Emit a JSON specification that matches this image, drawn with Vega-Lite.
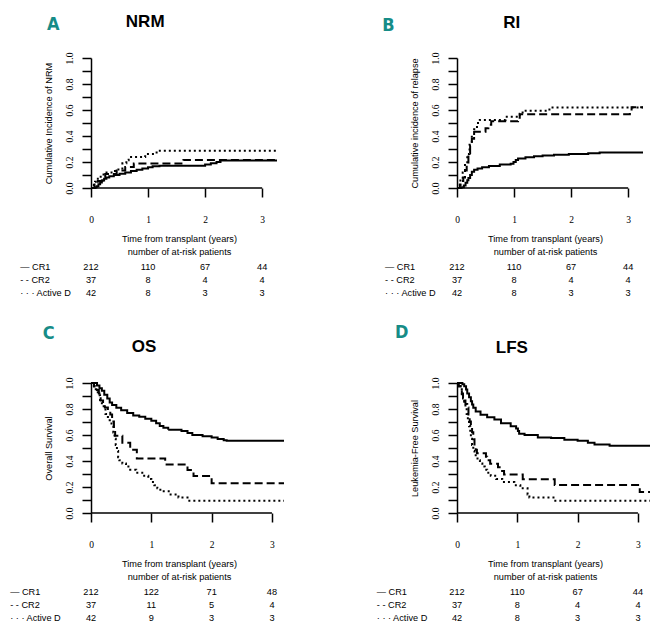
{
  "$schema": "https://vega.github.io/schema/vega-lite/v6.json",
  "padding": {"left": 10, "top": 13, "right": 5, "bottom": 5},
  "background": "white",
  "config": {
    "view": {"stroke": null},
    "axis": {"grid": false, "domainColor": "black", "tickColor": "black", "labelColor": "black", "titleColor": "black", "domainWidth": 1.5, "tickWidth": 1.5, "tickSize": 9, "labelFont": "Liberation Serif", "labelFontSize": 9.5, "titleFont": "Liberation Sans", "titleFontSize": 9.2, "titleFontWeight": "normal", "titleLineHeight": 13, "labelOverlap": false},
    "axisY": {"labelExpr": "round(datum.value*10) % 2 == 0 ? format(datum.value, '.1f') : ''", "labelAngle": -90, "labelPadding": 8, "titlePadding": 11, "labelOverlap": false, "labelBound": false, "tickCount": 11},
    "axisX": {"format": "d", "domain": false, "labelFlush": false, "labelPadding": 17, "titleX": 88, "titlePadding": 11, "labelOverlap": false},
    "text": {"color": "black"}
  },
  "datasets": {
    "legend": [
      {"group": "CR1", "label": "— CR1"},
      {"group": "CR2", "label": "- - CR2"},
      {"group": "Active D", "label": "· · · Active D"}
    ],
    "risk": [
      {"panel": "A", "group": "CR1", "time": 0, "n": 212}, {"panel": "A", "group": "CR1", "time": 1, "n": 110}, {"panel": "A", "group": "CR1", "time": 2, "n": 67}, {"panel": "A", "group": "CR1", "time": 3, "n": 44},
      {"panel": "A", "group": "CR2", "time": 0, "n": 37}, {"panel": "A", "group": "CR2", "time": 1, "n": 8}, {"panel": "A", "group": "CR2", "time": 2, "n": 4}, {"panel": "A", "group": "CR2", "time": 3, "n": 4},
      {"panel": "A", "group": "Active D", "time": 0, "n": 42}, {"panel": "A", "group": "Active D", "time": 1, "n": 8}, {"panel": "A", "group": "Active D", "time": 2, "n": 3}, {"panel": "A", "group": "Active D", "time": 3, "n": 3},
      {"panel": "B", "group": "CR1", "time": 0, "n": 212}, {"panel": "B", "group": "CR1", "time": 1, "n": 110}, {"panel": "B", "group": "CR1", "time": 2, "n": 67}, {"panel": "B", "group": "CR1", "time": 3, "n": 44},
      {"panel": "B", "group": "CR2", "time": 0, "n": 37}, {"panel": "B", "group": "CR2", "time": 1, "n": 8}, {"panel": "B", "group": "CR2", "time": 2, "n": 4}, {"panel": "B", "group": "CR2", "time": 3, "n": 4},
      {"panel": "B", "group": "Active D", "time": 0, "n": 42}, {"panel": "B", "group": "Active D", "time": 1, "n": 8}, {"panel": "B", "group": "Active D", "time": 2, "n": 3}, {"panel": "B", "group": "Active D", "time": 3, "n": 3},
      {"panel": "C", "group": "CR1", "time": 0, "n": 212}, {"panel": "C", "group": "CR1", "time": 1, "n": 122}, {"panel": "C", "group": "CR1", "time": 2, "n": 71}, {"panel": "C", "group": "CR1", "time": 3, "n": 48},
      {"panel": "C", "group": "CR2", "time": 0, "n": 37}, {"panel": "C", "group": "CR2", "time": 1, "n": 11}, {"panel": "C", "group": "CR2", "time": 2, "n": 5}, {"panel": "C", "group": "CR2", "time": 3, "n": 4},
      {"panel": "C", "group": "Active D", "time": 0, "n": 42}, {"panel": "C", "group": "Active D", "time": 1, "n": 9}, {"panel": "C", "group": "Active D", "time": 2, "n": 3}, {"panel": "C", "group": "Active D", "time": 3, "n": 3},
      {"panel": "D", "group": "CR1", "time": 0, "n": 212}, {"panel": "D", "group": "CR1", "time": 1, "n": 110}, {"panel": "D", "group": "CR1", "time": 2, "n": 67}, {"panel": "D", "group": "CR1", "time": 3, "n": 44},
      {"panel": "D", "group": "CR2", "time": 0, "n": 37}, {"panel": "D", "group": "CR2", "time": 1, "n": 8}, {"panel": "D", "group": "CR2", "time": 2, "n": 4}, {"panel": "D", "group": "CR2", "time": 3, "n": 4},
      {"panel": "D", "group": "Active D", "time": 0, "n": 42}, {"panel": "D", "group": "Active D", "time": 1, "n": 8}, {"panel": "D", "group": "Active D", "time": 2, "n": 3}, {"panel": "D", "group": "Active D", "time": 3, "n": 3}
    ],
    "km": [
      {"panel": "A", "group": "CR1", "time": 0, "value": 0}, {"panel": "A", "group": "CR1", "time": 0.08, "value": 0.005}, {"panel": "A", "group": "CR1", "time": 0.1, "value": 0.014}, {"panel": "A", "group": "CR1", "time": 0.13, "value": 0.028}, {"panel": "A", "group": "CR1", "time": 0.16, "value": 0.042}, {"panel": "A", "group": "CR1", "time": 0.19, "value": 0.057}, {"panel": "A", "group": "CR1", "time": 0.23, "value": 0.071}, {"panel": "A", "group": "CR1", "time": 0.27, "value": 0.08}, {"panel": "A", "group": "CR1", "time": 0.32, "value": 0.09}, {"panel": "A", "group": "CR1", "time": 0.4, "value": 0.1}, {"panel": "A", "group": "CR1", "time": 0.5, "value": 0.11}, {"panel": "A", "group": "CR1", "time": 0.6, "value": 0.12}, {"panel": "A", "group": "CR1", "time": 0.7, "value": 0.13}, {"panel": "A", "group": "CR1", "time": 0.8, "value": 0.14}, {"panel": "A", "group": "CR1", "time": 0.9, "value": 0.15}, {"panel": "A", "group": "CR1", "time": 1.0, "value": 0.16}, {"panel": "A", "group": "CR1", "time": 1.08, "value": 0.168}, {"panel": "A", "group": "CR1", "time": 1.2, "value": 0.172}, {"panel": "A", "group": "CR1", "time": 2.0, "value": 0.18}, {"panel": "A", "group": "CR1", "time": 2.1, "value": 0.19}, {"panel": "A", "group": "CR1", "time": 2.2, "value": 0.2}, {"panel": "A", "group": "CR1", "time": 2.27, "value": 0.212}, {"panel": "A", "group": "CR1", "time": 3.26, "value": 0.212},
      {"panel": "A", "group": "CR2", "time": 0, "value": 0}, {"panel": "A", "group": "CR2", "time": 0.06, "value": 0.027}, {"panel": "A", "group": "CR2", "time": 0.12, "value": 0.054}, {"panel": "A", "group": "CR2", "time": 0.2, "value": 0.081}, {"panel": "A", "group": "CR2", "time": 0.25, "value": 0.108}, {"panel": "A", "group": "CR2", "time": 0.45, "value": 0.135}, {"panel": "A", "group": "CR2", "time": 0.6, "value": 0.162}, {"panel": "A", "group": "CR2", "time": 0.75, "value": 0.189}, {"panel": "A", "group": "CR2", "time": 1.62, "value": 0.216}, {"panel": "A", "group": "CR2", "time": 3.26, "value": 0.216},
      {"panel": "A", "group": "Active D", "time": 0, "value": 0}, {"panel": "A", "group": "Active D", "time": 0.03, "value": 0.024}, {"panel": "A", "group": "Active D", "time": 0.07, "value": 0.048}, {"panel": "A", "group": "Active D", "time": 0.12, "value": 0.071}, {"panel": "A", "group": "Active D", "time": 0.17, "value": 0.095}, {"panel": "A", "group": "Active D", "time": 0.22, "value": 0.119}, {"panel": "A", "group": "Active D", "time": 0.42, "value": 0.143}, {"panel": "A", "group": "Active D", "time": 0.55, "value": 0.19}, {"panel": "A", "group": "Active D", "time": 0.62, "value": 0.214}, {"panel": "A", "group": "Active D", "time": 0.66, "value": 0.238}, {"panel": "A", "group": "Active D", "time": 0.95, "value": 0.262}, {"panel": "A", "group": "Active D", "time": 1.15, "value": 0.286}, {"panel": "A", "group": "Active D", "time": 3.26, "value": 0.286},
      {"panel": "B", "group": "CR1", "time": 0, "value": 0}, {"panel": "B", "group": "CR1", "time": 0.08, "value": 0.005}, {"panel": "B", "group": "CR1", "time": 0.12, "value": 0.02}, {"panel": "B", "group": "CR1", "time": 0.15, "value": 0.04}, {"panel": "B", "group": "CR1", "time": 0.18, "value": 0.06}, {"panel": "B", "group": "CR1", "time": 0.2, "value": 0.077}, {"panel": "B", "group": "CR1", "time": 0.23, "value": 0.1}, {"panel": "B", "group": "CR1", "time": 0.26, "value": 0.125}, {"panel": "B", "group": "CR1", "time": 0.3, "value": 0.14}, {"panel": "B", "group": "CR1", "time": 0.36, "value": 0.15}, {"panel": "B", "group": "CR1", "time": 0.44, "value": 0.16}, {"panel": "B", "group": "CR1", "time": 0.56, "value": 0.17}, {"panel": "B", "group": "CR1", "time": 0.75, "value": 0.18}, {"panel": "B", "group": "CR1", "time": 0.94, "value": 0.187}, {"panel": "B", "group": "CR1", "time": 0.99, "value": 0.2}, {"panel": "B", "group": "CR1", "time": 1.03, "value": 0.215}, {"panel": "B", "group": "CR1", "time": 1.07, "value": 0.226}, {"panel": "B", "group": "CR1", "time": 1.2, "value": 0.236}, {"panel": "B", "group": "CR1", "time": 1.35, "value": 0.245}, {"panel": "B", "group": "CR1", "time": 1.5, "value": 0.25}, {"panel": "B", "group": "CR1", "time": 1.7, "value": 0.256}, {"panel": "B", "group": "CR1", "time": 1.96, "value": 0.262}, {"panel": "B", "group": "CR1", "time": 2.3, "value": 0.268}, {"panel": "B", "group": "CR1", "time": 2.5, "value": 0.274}, {"panel": "B", "group": "CR1", "time": 3.26, "value": 0.274},
      {"panel": "B", "group": "CR2", "time": 0, "value": 0}, {"panel": "B", "group": "CR2", "time": 0.05, "value": 0.027}, {"panel": "B", "group": "CR2", "time": 0.08, "value": 0.054}, {"panel": "B", "group": "CR2", "time": 0.11, "value": 0.081}, {"panel": "B", "group": "CR2", "time": 0.14, "value": 0.135}, {"panel": "B", "group": "CR2", "time": 0.17, "value": 0.189}, {"panel": "B", "group": "CR2", "time": 0.2, "value": 0.27}, {"panel": "B", "group": "CR2", "time": 0.23, "value": 0.324}, {"panel": "B", "group": "CR2", "time": 0.26, "value": 0.378}, {"panel": "B", "group": "CR2", "time": 0.3, "value": 0.432}, {"panel": "B", "group": "CR2", "time": 0.5, "value": 0.459}, {"panel": "B", "group": "CR2", "time": 0.55, "value": 0.486}, {"panel": "B", "group": "CR2", "time": 0.6, "value": 0.514}, {"panel": "B", "group": "CR2", "time": 1.07, "value": 0.541}, {"panel": "B", "group": "CR2", "time": 1.1, "value": 0.568}, {"panel": "B", "group": "CR2", "time": 3.03, "value": 0.595}, {"panel": "B", "group": "CR2", "time": 3.06, "value": 0.622}, {"panel": "B", "group": "CR2", "time": 3.26, "value": 0.622},
      {"panel": "B", "group": "Active D", "time": 0, "value": 0}, {"panel": "B", "group": "Active D", "time": 0.03, "value": 0.024}, {"panel": "B", "group": "Active D", "time": 0.06, "value": 0.071}, {"panel": "B", "group": "Active D", "time": 0.1, "value": 0.119}, {"panel": "B", "group": "Active D", "time": 0.14, "value": 0.19}, {"panel": "B", "group": "Active D", "time": 0.18, "value": 0.262}, {"panel": "B", "group": "Active D", "time": 0.22, "value": 0.333}, {"panel": "B", "group": "Active D", "time": 0.26, "value": 0.405}, {"panel": "B", "group": "Active D", "time": 0.3, "value": 0.452}, {"panel": "B", "group": "Active D", "time": 0.35, "value": 0.5}, {"panel": "B", "group": "Active D", "time": 0.4, "value": 0.524}, {"panel": "B", "group": "Active D", "time": 0.85, "value": 0.548}, {"panel": "B", "group": "Active D", "time": 1.1, "value": 0.571}, {"panel": "B", "group": "Active D", "time": 1.15, "value": 0.595}, {"panel": "B", "group": "Active D", "time": 1.62, "value": 0.619}, {"panel": "B", "group": "Active D", "time": 3.26, "value": 0.619},
      {"panel": "C", "group": "CR1", "time": 0, "value": 1}, {"panel": "C", "group": "CR1", "time": 0.07, "value": 1}, {"panel": "C", "group": "CR1", "time": 0.1, "value": 0.98}, {"panel": "C", "group": "CR1", "time": 0.14, "value": 0.96}, {"panel": "C", "group": "CR1", "time": 0.18, "value": 0.94}, {"panel": "C", "group": "CR1", "time": 0.22, "value": 0.91}, {"panel": "C", "group": "CR1", "time": 0.27, "value": 0.88}, {"panel": "C", "group": "CR1", "time": 0.31, "value": 0.85}, {"panel": "C", "group": "CR1", "time": 0.35, "value": 0.83}, {"panel": "C", "group": "CR1", "time": 0.42, "value": 0.81}, {"panel": "C", "group": "CR1", "time": 0.5, "value": 0.79}, {"panel": "C", "group": "CR1", "time": 0.6, "value": 0.77}, {"panel": "C", "group": "CR1", "time": 0.7, "value": 0.75}, {"panel": "C", "group": "CR1", "time": 0.8, "value": 0.74}, {"panel": "C", "group": "CR1", "time": 0.9, "value": 0.725}, {"panel": "C", "group": "CR1", "time": 1.0, "value": 0.71}, {"panel": "C", "group": "CR1", "time": 1.08, "value": 0.69}, {"panel": "C", "group": "CR1", "time": 1.14, "value": 0.67}, {"panel": "C", "group": "CR1", "time": 1.2, "value": 0.655}, {"panel": "C", "group": "CR1", "time": 1.28, "value": 0.64}, {"panel": "C", "group": "CR1", "time": 1.5, "value": 0.63}, {"panel": "C", "group": "CR1", "time": 1.6, "value": 0.615}, {"panel": "C", "group": "CR1", "time": 1.68, "value": 0.6}, {"panel": "C", "group": "CR1", "time": 1.85, "value": 0.59}, {"panel": "C", "group": "CR1", "time": 2.0, "value": 0.58}, {"panel": "C", "group": "CR1", "time": 2.1, "value": 0.57}, {"panel": "C", "group": "CR1", "time": 2.2, "value": 0.56}, {"panel": "C", "group": "CR1", "time": 2.25, "value": 0.555}, {"panel": "C", "group": "CR1", "time": 3.2, "value": 0.555},
      {"panel": "C", "group": "CR2", "time": 0, "value": 1}, {"panel": "C", "group": "CR2", "time": 0.05, "value": 0.973}, {"panel": "C", "group": "CR2", "time": 0.1, "value": 0.946}, {"panel": "C", "group": "CR2", "time": 0.13, "value": 0.919}, {"panel": "C", "group": "CR2", "time": 0.16, "value": 0.865}, {"panel": "C", "group": "CR2", "time": 0.2, "value": 0.838}, {"panel": "C", "group": "CR2", "time": 0.23, "value": 0.811}, {"panel": "C", "group": "CR2", "time": 0.28, "value": 0.784}, {"panel": "C", "group": "CR2", "time": 0.32, "value": 0.757}, {"panel": "C", "group": "CR2", "time": 0.35, "value": 0.703}, {"panel": "C", "group": "CR2", "time": 0.38, "value": 0.649}, {"panel": "C", "group": "CR2", "time": 0.4, "value": 0.595}, {"panel": "C", "group": "CR2", "time": 0.52, "value": 0.541}, {"panel": "C", "group": "CR2", "time": 0.65, "value": 0.486}, {"panel": "C", "group": "CR2", "time": 0.76, "value": 0.419}, {"panel": "C", "group": "CR2", "time": 1.23, "value": 0.374}, {"panel": "C", "group": "CR2", "time": 1.6, "value": 0.33}, {"panel": "C", "group": "CR2", "time": 1.7, "value": 0.285}, {"panel": "C", "group": "CR2", "time": 2.0, "value": 0.228}, {"panel": "C", "group": "CR2", "time": 3.2, "value": 0.228},
      {"panel": "C", "group": "Active D", "time": 0, "value": 1}, {"panel": "C", "group": "Active D", "time": 0.03, "value": 0.976}, {"panel": "C", "group": "Active D", "time": 0.06, "value": 0.952}, {"panel": "C", "group": "Active D", "time": 0.09, "value": 0.929}, {"panel": "C", "group": "Active D", "time": 0.12, "value": 0.905}, {"panel": "C", "group": "Active D", "time": 0.15, "value": 0.857}, {"panel": "C", "group": "Active D", "time": 0.18, "value": 0.833}, {"panel": "C", "group": "Active D", "time": 0.21, "value": 0.81}, {"panel": "C", "group": "Active D", "time": 0.24, "value": 0.762}, {"panel": "C", "group": "Active D", "time": 0.28, "value": 0.738}, {"panel": "C", "group": "Active D", "time": 0.31, "value": 0.714}, {"panel": "C", "group": "Active D", "time": 0.34, "value": 0.667}, {"panel": "C", "group": "Active D", "time": 0.37, "value": 0.619}, {"panel": "C", "group": "Active D", "time": 0.39, "value": 0.571}, {"panel": "C", "group": "Active D", "time": 0.41, "value": 0.524}, {"panel": "C", "group": "Active D", "time": 0.43, "value": 0.476}, {"panel": "C", "group": "Active D", "time": 0.45, "value": 0.429}, {"panel": "C", "group": "Active D", "time": 0.47, "value": 0.405}, {"panel": "C", "group": "Active D", "time": 0.52, "value": 0.381}, {"panel": "C", "group": "Active D", "time": 0.58, "value": 0.357}, {"panel": "C", "group": "Active D", "time": 0.65, "value": 0.333}, {"panel": "C", "group": "Active D", "time": 0.75, "value": 0.31}, {"panel": "C", "group": "Active D", "time": 0.85, "value": 0.286}, {"panel": "C", "group": "Active D", "time": 0.95, "value": 0.262}, {"panel": "C", "group": "Active D", "time": 1.0, "value": 0.238}, {"panel": "C", "group": "Active D", "time": 1.05, "value": 0.214}, {"panel": "C", "group": "Active D", "time": 1.1, "value": 0.19}, {"panel": "C", "group": "Active D", "time": 1.15, "value": 0.167}, {"panel": "C", "group": "Active D", "time": 1.32, "value": 0.143}, {"panel": "C", "group": "Active D", "time": 1.45, "value": 0.119}, {"panel": "C", "group": "Active D", "time": 1.6, "value": 0.095}, {"panel": "C", "group": "Active D", "time": 3.2, "value": 0.095},
      {"panel": "D", "group": "CR1", "time": 0, "value": 1}, {"panel": "D", "group": "CR1", "time": 0.06, "value": 1}, {"panel": "D", "group": "CR1", "time": 0.09, "value": 0.99}, {"panel": "D", "group": "CR1", "time": 0.12, "value": 0.975}, {"panel": "D", "group": "CR1", "time": 0.15, "value": 0.95}, {"panel": "D", "group": "CR1", "time": 0.17, "value": 0.92}, {"panel": "D", "group": "CR1", "time": 0.2, "value": 0.89}, {"panel": "D", "group": "CR1", "time": 0.23, "value": 0.86}, {"panel": "D", "group": "CR1", "time": 0.25, "value": 0.835}, {"panel": "D", "group": "CR1", "time": 0.27, "value": 0.81}, {"panel": "D", "group": "CR1", "time": 0.31, "value": 0.78}, {"panel": "D", "group": "CR1", "time": 0.39, "value": 0.756}, {"panel": "D", "group": "CR1", "time": 0.5, "value": 0.736}, {"panel": "D", "group": "CR1", "time": 0.62, "value": 0.72}, {"panel": "D", "group": "CR1", "time": 0.73, "value": 0.69}, {"panel": "D", "group": "CR1", "time": 0.89, "value": 0.667}, {"panel": "D", "group": "CR1", "time": 0.98, "value": 0.65}, {"panel": "D", "group": "CR1", "time": 1.01, "value": 0.63}, {"panel": "D", "group": "CR1", "time": 1.03, "value": 0.61}, {"panel": "D", "group": "CR1", "time": 1.12, "value": 0.6}, {"panel": "D", "group": "CR1", "time": 1.34, "value": 0.58}, {"panel": "D", "group": "CR1", "time": 1.56, "value": 0.577}, {"panel": "D", "group": "CR1", "time": 1.78, "value": 0.564}, {"panel": "D", "group": "CR1", "time": 2.0, "value": 0.556}, {"panel": "D", "group": "CR1", "time": 2.17, "value": 0.54}, {"panel": "D", "group": "CR1", "time": 2.28, "value": 0.526}, {"panel": "D", "group": "CR1", "time": 2.53, "value": 0.518}, {"panel": "D", "group": "CR1", "time": 3.2, "value": 0.518},
      {"panel": "D", "group": "CR2", "time": 0, "value": 1}, {"panel": "D", "group": "CR2", "time": 0.03, "value": 0.973}, {"panel": "D", "group": "CR2", "time": 0.06, "value": 0.946}, {"panel": "D", "group": "CR2", "time": 0.08, "value": 0.919}, {"panel": "D", "group": "CR2", "time": 0.1, "value": 0.892}, {"panel": "D", "group": "CR2", "time": 0.12, "value": 0.865}, {"panel": "D", "group": "CR2", "time": 0.14, "value": 0.838}, {"panel": "D", "group": "CR2", "time": 0.17, "value": 0.811}, {"panel": "D", "group": "CR2", "time": 0.19, "value": 0.757}, {"panel": "D", "group": "CR2", "time": 0.21, "value": 0.703}, {"panel": "D", "group": "CR2", "time": 0.23, "value": 0.676}, {"panel": "D", "group": "CR2", "time": 0.25, "value": 0.622}, {"panel": "D", "group": "CR2", "time": 0.27, "value": 0.568}, {"panel": "D", "group": "CR2", "time": 0.29, "value": 0.514}, {"panel": "D", "group": "CR2", "time": 0.31, "value": 0.486}, {"panel": "D", "group": "CR2", "time": 0.33, "value": 0.459}, {"panel": "D", "group": "CR2", "time": 0.48, "value": 0.432}, {"panel": "D", "group": "CR2", "time": 0.5, "value": 0.405}, {"panel": "D", "group": "CR2", "time": 0.55, "value": 0.378}, {"panel": "D", "group": "CR2", "time": 0.68, "value": 0.351}, {"panel": "D", "group": "CR2", "time": 0.73, "value": 0.324}, {"panel": "D", "group": "CR2", "time": 0.78, "value": 0.297}, {"panel": "D", "group": "CR2", "time": 1.09, "value": 0.26}, {"panel": "D", "group": "CR2", "time": 1.62, "value": 0.216}, {"panel": "D", "group": "CR2", "time": 3.03, "value": 0.162}, {"panel": "D", "group": "CR2", "time": 3.2, "value": 0.162},
      {"panel": "D", "group": "Active D", "time": 0, "value": 1}, {"panel": "D", "group": "Active D", "time": 0.03, "value": 0.976}, {"panel": "D", "group": "Active D", "time": 0.06, "value": 0.952}, {"panel": "D", "group": "Active D", "time": 0.08, "value": 0.905}, {"panel": "D", "group": "Active D", "time": 0.1, "value": 0.881}, {"panel": "D", "group": "Active D", "time": 0.12, "value": 0.833}, {"panel": "D", "group": "Active D", "time": 0.14, "value": 0.81}, {"panel": "D", "group": "Active D", "time": 0.16, "value": 0.762}, {"panel": "D", "group": "Active D", "time": 0.18, "value": 0.714}, {"panel": "D", "group": "Active D", "time": 0.2, "value": 0.667}, {"panel": "D", "group": "Active D", "time": 0.22, "value": 0.619}, {"panel": "D", "group": "Active D", "time": 0.23, "value": 0.571}, {"panel": "D", "group": "Active D", "time": 0.25, "value": 0.524}, {"panel": "D", "group": "Active D", "time": 0.27, "value": 0.476}, {"panel": "D", "group": "Active D", "time": 0.29, "value": 0.452}, {"panel": "D", "group": "Active D", "time": 0.31, "value": 0.429}, {"panel": "D", "group": "Active D", "time": 0.34, "value": 0.405}, {"panel": "D", "group": "Active D", "time": 0.38, "value": 0.381}, {"panel": "D", "group": "Active D", "time": 0.42, "value": 0.357}, {"panel": "D", "group": "Active D", "time": 0.46, "value": 0.333}, {"panel": "D", "group": "Active D", "time": 0.5, "value": 0.31}, {"panel": "D", "group": "Active D", "time": 0.56, "value": 0.286}, {"panel": "D", "group": "Active D", "time": 0.65, "value": 0.262}, {"panel": "D", "group": "Active D", "time": 0.75, "value": 0.238}, {"panel": "D", "group": "Active D", "time": 0.95, "value": 0.214}, {"panel": "D", "group": "Active D", "time": 1.05, "value": 0.19}, {"panel": "D", "group": "Active D", "time": 1.17, "value": 0.143}, {"panel": "D", "group": "Active D", "time": 1.2, "value": 0.119}, {"panel": "D", "group": "Active D", "time": 1.63, "value": 0.095}, {"panel": "D", "group": "Active D", "time": 3.2, "value": 0.095}
    ]
  },
  "concat": [
    {
      "width": 186, "height": 130,
      "resolve": {"scale": {"y": "independent"}, "axis": {"y": "independent"}},
      "layer": [
        {"layer": [
          {"data": {"name": "km"}, "transform": [{"filter": "datum.panel == 'A'"}],
           "mark": {"type": "line", "interpolate": "step-after", "strokeWidth": 2, "color": "black"},
           "encoding": {
             "x": {"field": "time", "type": "quantitative", "scale": {"domain": [0, 3.26], "nice": false}, "axis": {"values": [0, 1, 2, 3], "title": ["Time from transplant (years)", "number of at-risk patients"]}},
             "y": {"field": "value", "type": "quantitative", "scale": {"domain": [0, 1], "nice": false}, "axis": {"title": "Cumulative Incidence of NRM", "values": [0, 0.1, 0.2, 0.3, 0.4, 0.5, 0.6, 0.7, 0.8, 0.9, 1.0], "tickCount": 11, "labelOverlap": false}},
             "strokeDash": {"field": "group", "type": "nominal", "scale": {"domain": ["CR1", "CR2", "Active D"], "range": [[1, 0], [8, 4], [2, 3]]}, "legend": null}
           }},
          {"data": {"values": [{}]}, "mark": {"type": "rule", "color": "black", "strokeWidth": 1.5}, "encoding": {"x": {"datum": 0}, "x2": {"datum": 3}, "y": {"datum": 0}}},
          {"data": {"values": [{}]}, "mark": {"type": "text", "text": "NRM", "font": "Liberation Sans", "fontSize": 17, "fontWeight": "bold", "align": "center", "baseline": "alphabetic"}, "encoding": {"x": {"datum": 0.95}, "y": {"datum": 1.237}}},
          {"data": {"values": [{}]}, "mark": {"type": "text", "text": "A", "font": "DejaVu Sans Condensed", "fontSize": 18, "fontWeight": "bold", "color": "#168c87", "align": "left", "baseline": "alphabetic"}, "encoding": {"x": {"datum": -0.77}, "y": {"datum": 1.217}}}
        ]},
        {"layer": [
          {"data": {"name": "risk"}, "transform": [{"filter": "datum.panel == 'A'"}],
           "mark": {"type": "text", "font": "Liberation Sans", "fontSize": 9.2, "align": "center", "baseline": "middle"},
           "encoding": {"x": {"field": "time", "type": "quantitative", "scale": {"domain": [0, 3.26], "nice": false}}, "y": {"field": "group", "type": "nominal", "scale": {"type": "point", "domain": ["CR1", "CR2", "Active D"], "range": [209, 235], "padding": 0}, "axis": null}, "text": {"field": "n", "type": "quantitative"}}},
          {"data": {"name": "legend"},
           "mark": {"type": "text", "font": "Liberation Sans", "fontSize": 9.2, "align": "left", "baseline": "middle"},
           "encoding": {"x": {"datum": -1.24}, "y": {"field": "group", "type": "nominal"}, "text": {"field": "label", "type": "nominal"}}}
        ]}
      ]
    },
    {
      "width": 186, "height": 130,
      "resolve": {"scale": {"y": "independent"}, "axis": {"y": "independent"}},
      "layer": [
        {"layer": [
          {"data": {"name": "km"}, "transform": [{"filter": "datum.panel == 'B'"}],
           "mark": {"type": "line", "interpolate": "step-after", "strokeWidth": 2, "color": "black"},
           "encoding": {
             "x": {"field": "time", "type": "quantitative", "scale": {"domain": [0, 3.26], "nice": false}, "axis": {"values": [0, 1, 2, 3], "title": ["Time from transplant (years)", "number of at-risk patients"]}},
             "y": {"field": "value", "type": "quantitative", "scale": {"domain": [0, 1], "nice": false}, "axis": {"title": "Cumulative incidence of relapse", "values": [0, 0.1, 0.2, 0.3, 0.4, 0.5, 0.6, 0.7, 0.8, 0.9, 1.0], "tickCount": 11, "labelOverlap": false}},
             "strokeDash": {"field": "group", "type": "nominal", "scale": {"domain": ["CR1", "CR2", "Active D"], "range": [[1, 0], [8, 4], [2, 3]]}, "legend": null}
           }},
          {"data": {"values": [{}]}, "mark": {"type": "rule", "color": "black", "strokeWidth": 1.5}, "encoding": {"x": {"datum": 0}, "x2": {"datum": 3}, "y": {"datum": 0}}},
          {"data": {"values": [{}]}, "mark": {"type": "text", "text": "RI", "font": "Liberation Sans", "fontSize": 17, "fontWeight": "bold", "align": "center", "baseline": "alphabetic"}, "encoding": {"x": {"datum": 0.96}, "y": {"datum": 1.227}}},
          {"data": {"values": [{}]}, "mark": {"type": "text", "text": "B", "font": "DejaVu Sans Condensed", "fontSize": 18, "fontWeight": "bold", "color": "#168c87", "align": "left", "baseline": "alphabetic"}, "encoding": {"x": {"datum": -1.31}, "y": {"datum": 1.21}}}
        ]},
        {"layer": [
          {"data": {"name": "risk"}, "transform": [{"filter": "datum.panel == 'B'"}],
           "mark": {"type": "text", "font": "Liberation Sans", "fontSize": 9.2, "align": "center", "baseline": "middle"},
           "encoding": {"x": {"field": "time", "type": "quantitative", "scale": {"domain": [0, 3.26], "nice": false}}, "y": {"field": "group", "type": "nominal", "scale": {"type": "point", "domain": ["CR1", "CR2", "Active D"], "range": [209, 235], "padding": 0}, "axis": null}, "text": {"field": "n", "type": "quantitative"}}},
          {"data": {"name": "legend"},
           "mark": {"type": "text", "font": "Liberation Sans", "fontSize": 9.2, "align": "left", "baseline": "middle"},
           "encoding": {"x": {"datum": -1.26}, "y": {"field": "group", "type": "nominal"}, "text": {"field": "label", "type": "nominal"}}}
        ]}
      ]
    },
    {
      "width": 193, "height": 130,
      "resolve": {"scale": {"y": "independent"}, "axis": {"y": "independent"}},
      "layer": [
        {"layer": [
          {"data": {"name": "km"}, "transform": [{"filter": "datum.panel == 'C'"}],
           "mark": {"type": "line", "interpolate": "step-after", "strokeWidth": 2, "color": "black"},
           "encoding": {
             "x": {"field": "time", "type": "quantitative", "scale": {"domain": [0, 3.2], "nice": false}, "axis": {"values": [0, 1, 2, 3], "title": ["Time from transplant (years)", "number of at-risk patients"]}},
             "y": {"field": "value", "type": "quantitative", "scale": {"domain": [0, 1], "nice": false}, "axis": {"title": "Overall Survival", "values": [0, 0.1, 0.2, 0.3, 0.4, 0.5, 0.6, 0.7, 0.8, 0.9, 1.0], "tickCount": 11, "labelOverlap": false}},
             "strokeDash": {"field": "group", "type": "nominal", "scale": {"domain": ["CR1", "CR2", "Active D"], "range": [[1, 0], [8, 4], [2, 3]]}, "legend": null}
           }},
          {"data": {"values": [{}]}, "mark": {"type": "rule", "color": "black", "strokeWidth": 1.5}, "encoding": {"x": {"datum": 0}, "x2": {"datum": 3}, "y": {"datum": 0}}},
          {"data": {"values": [{}]}, "mark": {"type": "text", "text": "OS", "font": "Liberation Sans", "fontSize": 17, "fontWeight": "bold", "align": "center", "baseline": "alphabetic"}, "encoding": {"x": {"datum": 0.88}, "y": {"datum": 1.237}}},
          {"data": {"values": [{}]}, "mark": {"type": "text", "text": "C", "font": "DejaVu Sans Condensed", "fontSize": 18, "fontWeight": "bold", "color": "#168c87", "align": "left", "baseline": "alphabetic"}, "encoding": {"x": {"datum": -0.8}, "y": {"datum": 1.342}}}
        ]},
        {"layer": [
          {"data": {"name": "risk"}, "transform": [{"filter": "datum.panel == 'C'"}],
           "mark": {"type": "text", "font": "Liberation Sans", "fontSize": 9.2, "align": "center", "baseline": "middle"},
           "encoding": {"x": {"field": "time", "type": "quantitative", "scale": {"domain": [0, 3.2], "nice": false}}, "y": {"field": "group", "type": "nominal", "scale": {"type": "point", "domain": ["CR1", "CR2", "Active D"], "range": [209, 235], "padding": 0}, "axis": null}, "text": {"field": "n", "type": "quantitative"}}},
          {"data": {"name": "legend"},
           "mark": {"type": "text", "font": "Liberation Sans", "fontSize": 9.2, "align": "left", "baseline": "middle"},
           "encoding": {"x": {"datum": -1.34}, "y": {"field": "group", "type": "nominal"}, "text": {"field": "label", "type": "nominal"}}}
        ]}
      ]
    },
    {
      "width": 193, "height": 130,
      "resolve": {"scale": {"y": "independent"}, "axis": {"y": "independent"}},
      "layer": [
        {"layer": [
          {"data": {"name": "km"}, "transform": [{"filter": "datum.panel == 'D'"}],
           "mark": {"type": "line", "interpolate": "step-after", "strokeWidth": 2, "color": "black"},
           "encoding": {
             "x": {"field": "time", "type": "quantitative", "scale": {"domain": [0, 3.2], "nice": false}, "axis": {"values": [0, 1, 2, 3], "title": ["Time from transplant (years)", "number of at-risk patients"]}},
             "y": {"field": "value", "type": "quantitative", "scale": {"domain": [0, 1], "nice": false}, "axis": {"title": "Leukemia-Free Survival", "values": [0, 0.1, 0.2, 0.3, 0.4, 0.5, 0.6, 0.7, 0.8, 0.9, 1.0], "tickCount": 11, "labelOverlap": false}},
             "strokeDash": {"field": "group", "type": "nominal", "scale": {"domain": ["CR1", "CR2", "Active D"], "range": [[1, 0], [8, 4], [2, 3]]}, "legend": null}
           }},
          {"data": {"values": [{}]}, "mark": {"type": "rule", "color": "black", "strokeWidth": 1.5}, "encoding": {"x": {"datum": 0}, "x2": {"datum": 3}, "y": {"datum": 0}}},
          {"data": {"values": [{}]}, "mark": {"type": "text", "text": "LFS", "font": "Liberation Sans", "fontSize": 17, "fontWeight": "bold", "align": "center", "baseline": "alphabetic"}, "encoding": {"x": {"datum": 0.91}, "y": {"datum": 1.23}}},
          {"data": {"values": [{}]}, "mark": {"type": "text", "text": "D", "font": "DejaVu Sans Condensed", "fontSize": 18, "fontWeight": "bold", "color": "#168c87", "align": "left", "baseline": "alphabetic"}, "encoding": {"x": {"datum": -1.03}, "y": {"datum": 1.35}}}
        ]},
        {"layer": [
          {"data": {"name": "risk"}, "transform": [{"filter": "datum.panel == 'D'"}],
           "mark": {"type": "text", "font": "Liberation Sans", "fontSize": 9.2, "align": "center", "baseline": "middle"},
           "encoding": {"x": {"field": "time", "type": "quantitative", "scale": {"domain": [0, 3.2], "nice": false}}, "y": {"field": "group", "type": "nominal", "scale": {"type": "point", "domain": ["CR1", "CR2", "Active D"], "range": [209, 235], "padding": 0}, "axis": null}, "text": {"field": "n", "type": "quantitative"}}},
          {"data": {"name": "legend"},
           "mark": {"type": "text", "font": "Liberation Sans", "fontSize": 9.2, "align": "left", "baseline": "middle"},
           "encoding": {"x": {"datum": -1.33}, "y": {"field": "group", "type": "nominal"}, "text": {"field": "label", "type": "nominal"}}}
        ]}
      ]
    }
  ],
  "columns": 2,
  "bounds": "flush",
  "spacing": {"row": 195, "column": 173}
}
